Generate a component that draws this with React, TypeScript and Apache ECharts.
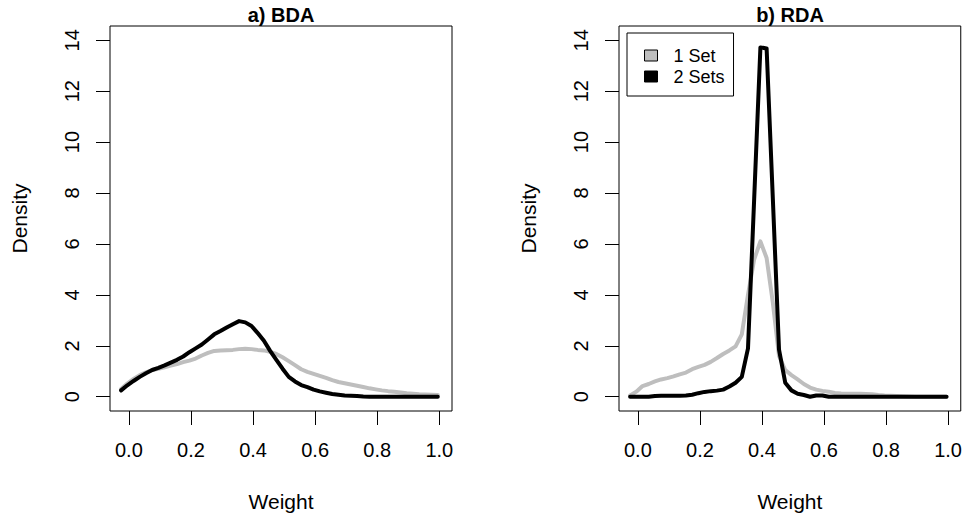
import React, { useEffect, useRef } from "react";
import * as echarts from "echarts";

// Weight grid (x values of the density polylines)
const weights = [
  -0.025, -0.005, 0.015, 0.035, 0.055, 0.075, 0.095, 0.115, 0.135, 0.155,
  0.175, 0.195, 0.215, 0.235, 0.255, 0.275, 0.295, 0.315, 0.335, 0.355,
  0.375, 0.395, 0.415, 0.435, 0.455, 0.475, 0.495, 0.515, 0.535, 0.555,
  0.575, 0.595, 0.615, 0.635, 0.655, 0.675, 0.695, 0.715, 0.735, 0.755,
  0.775, 0.795, 0.815, 0.835, 0.855, 0.875, 0.895, 0.915, 0.935, 0.955,
  0.975, 0.995,
];

// a) BDA
const bdaOneSet = [
  0.3, 0.52, 0.7, 0.85, 0.96, 1.05, 1.1, 1.16, 1.22, 1.28,
  1.36, 1.42, 1.5, 1.62, 1.72, 1.8, 1.82, 1.83, 1.84, 1.87,
  1.88, 1.87, 1.84, 1.82, 1.76, 1.68, 1.55, 1.4, 1.24, 1.08,
  0.98, 0.9, 0.82, 0.74, 0.65, 0.58, 0.53, 0.48, 0.43, 0.38,
  0.33, 0.29, 0.25, 0.22, 0.2, 0.17, 0.14, 0.12, 0.1, 0.09,
  0.08, 0.07,
];
const bdaTwoSets = [
  0.25, 0.45, 0.62, 0.78, 0.92, 1.05, 1.13, 1.23, 1.34, 1.45,
  1.58, 1.75, 1.9, 2.05, 2.25, 2.45, 2.58, 2.72, 2.85, 2.97,
  2.92, 2.78, 2.5, 2.2, 1.8, 1.45, 1.1, 0.78, 0.6, 0.46,
  0.38, 0.28, 0.21, 0.16, 0.11, 0.08, 0.05, 0.04, 0.03, 0.01,
  0, 0, 0, 0, 0, 0, 0, 0, 0, 0,
  0, 0,
];

// b) RDA
const rdaOneSet = [
  0.05, 0.2, 0.42, 0.5, 0.6, 0.68, 0.73, 0.8, 0.88, 0.95,
  1.08, 1.17, 1.25, 1.37, 1.52, 1.68, 1.82, 1.98, 2.45, 4.0,
  5.4, 6.1, 5.45, 3.7, 1.6, 1.05, 0.85, 0.68, 0.5, 0.36,
  0.28, 0.23, 0.2, 0.15, 0.13, 0.12, 0.12, 0.12, 0.11, 0.1,
  0.07, 0.05, 0.04, 0.03, 0.02, 0.01, 0, 0, 0, 0,
  0, 0,
];
const rdaTwoSets = [
  0, 0, 0, 0, 0.03, 0.04, 0.04, 0.04, 0.04, 0.05,
  0.08, 0.14, 0.19, 0.22, 0.24, 0.28, 0.4, 0.55, 0.78, 1.9,
  7.8, 13.72, 13.68, 7.8, 1.85, 0.55, 0.25, 0.12, 0.07, 0.0,
  0.05, 0.05, 0, 0, 0, 0, 0, 0, 0, 0,
  0, 0, 0, 0, 0, 0, 0, 0, 0, 0,
  0, 0,
];

const xTicks = [0, 0.2, 0.4, 0.6, 0.8, 1.0];
const yTicks = [0, 2, 4, 6, 8, 10, 12, 14];
const panelTitles = ["a) BDA", "b) RDA"];
const seriesNames = ["1 Set", "2 Sets"];

const FONT = "'Liberation Sans', Arial, Helvetica, sans-serif";
const GRAY = "#bebebe";

const pair = (ys: number[]) => weights.map((w, i) => [w, ys[i]]);

export default function App() {
  const ref = useRef<HTMLDivElement>(null);
  useEffect(() => {
    if (!ref.current) return;
    const chart = echarts.init(ref.current, undefined, { renderer: "svg" });
    const grids = [
      { left: 110, top: 26, width: 342, height: 385 },
      { left: 619, top: 26, width: 342, height: 385 },
    ];
    const xAxis = grids.map((_, i) => ({
      type: "value",
      gridIndex: i,
      position: "bottom",
      min: -0.0608,
      max: 1.0408,
      name: "Weight",
      nameLocation: "middle",
      nameGap: 80,
      nameTextStyle: { fontFamily: FONT, fontSize: 21, color: "#000" },
      axisLine: { show: false, onZero: false },
      splitLine: { show: false },
      axisTick: {
        show: true,
        inside: false,
        length: 14,
        customValues: xTicks,
        lineStyle: { color: "#000", width: 1 },
      },
      axisLabel: {
        customValues: xTicks,
        formatter: (v: number) => v.toFixed(1),
        margin: 29,
        fontFamily: FONT,
        fontSize: 20,
        color: "#000",
      },
    }));
    const yAxis = grids.map((_, i) => ({
      type: "value",
      gridIndex: i,
      position: "left",
      min: -0.56,
      max: 14.56,
      name: "Density",
      nameLocation: "middle",
      nameRotate: 90,
      nameGap: 80,
      nameTextStyle: { fontFamily: FONT, fontSize: 21, color: "#000" },
      axisLine: { show: false, onZero: false },
      splitLine: { show: false },
      axisTick: {
        show: true,
        inside: false,
        length: 14,
        customValues: yTicks,
        lineStyle: { color: "#000", width: 1 },
      },
      axisLabel: {
        customValues: yTicks,
        rotate: 90,
        margin: 28,
        fontFamily: FONT,
        fontSize: 20,
        color: "#000",
        formatter: (v: number) => String(v),
      },
    }));
    const lineSeries = (name: string, ys: number[], color: string, idx: number) => ({
      type: "line",
      name,
      xAxisIndex: idx,
      yAxisIndex: idx,
      data: pair(ys),
      showSymbol: false,
      symbol: "none",
      color,
      lineStyle: { color, width: 4, cap: "round", join: "round" },
      itemStyle: { color },
      z: color === GRAY ? 2 : 3,
    });
    chart.setOption({
      animation: false,
      grid: grids.map((g) => ({
        ...g,
        show: true,
        borderColor: "#000",
        borderWidth: 1,
        backgroundColor: "transparent",
      })),
      xAxis,
      yAxis,
      legend: {
        data: seriesNames,
        orient: "vertical",
        left: 627,
        top: 33,
        padding: [12, 9, 9, 17],
        itemGap: 0,
        itemWidth: 13,
        itemHeight: 11,
        icon: "rect",
        borderColor: "#000",
        borderWidth: 1,
        borderRadius: 0,
        itemStyle: { borderColor: "#000", borderWidth: 1 },
        textStyle: {
          fontFamily: FONT,
          fontSize: 18,
          color: "#000",
          lineHeight: 21,
          padding: [0, 0, 0, 11],
        },
        selectedMode: false,
      },
      graphic: panelTitles.map((t, i) => ({
        type: "text",
        x: grids[i].left + grids[i].width / 2,
        y: 15,
        style: {
          text: t,
          fontFamily: FONT,
          fontSize: 20,
          fontWeight: "bold",
          fill: "#000",
          align: "center",
          verticalAlign: "middle",
        },
      })),
      series: [
        lineSeries(seriesNames[0], bdaOneSet, GRAY, 0),
        lineSeries(seriesNames[1], bdaTwoSets, "#000", 0),
        lineSeries(seriesNames[0], rdaOneSet, GRAY, 1),
        lineSeries(seriesNames[1], rdaTwoSets, "#000", 1),
      ],
    });
    return () => chart.dispose();
  }, []);
  return (
    <div
      ref={ref}
      style={{ position: "fixed", left: 0, top: 0, width: 965, height: 527, background: "#fff" }}
    />
  );
}
